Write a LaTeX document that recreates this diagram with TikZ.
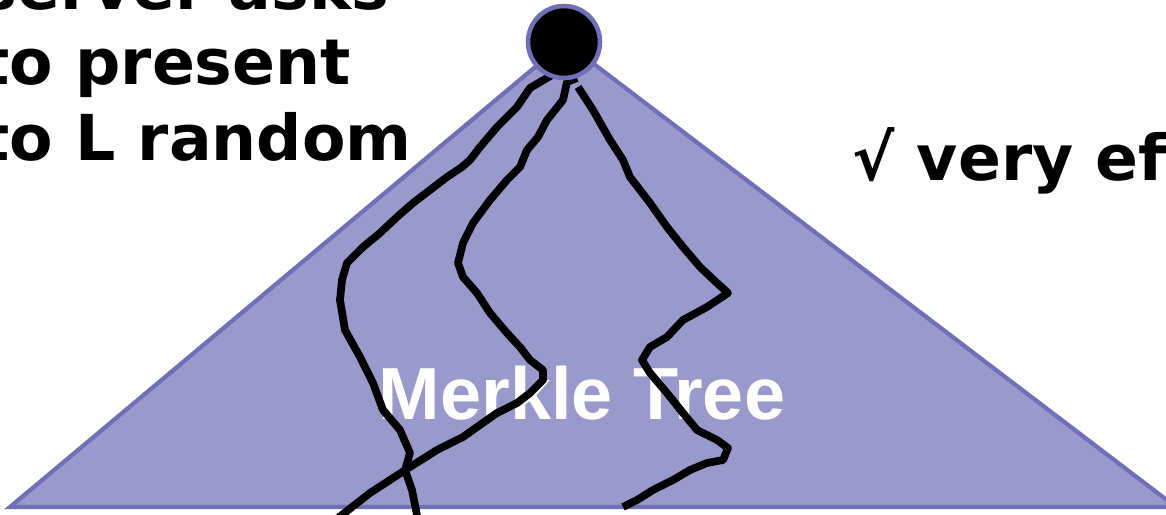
\documentclass[tikz,border=0pt]{standalone}
\usepackage{fontspec}
\newfontfamily\verdanafont{DejaVu Sans}
\newfontfamily\arialfont{Liberation Sans}

\definecolor{treefill}{RGB}{153,153,204}
\definecolor{treeline}{RGB}{112,112,184}

\tikzset{
  scribble/.style={black,line width=2.2pt,line join=round},
  bigtext/.style={font=\verdanafont\bfseries\fontsize{18}{21}\selectfont,inner sep=0pt,anchor=base west}
}

\begin{document}
\begin{tikzpicture}[x=0.01cm,y=-0.01cm]

   \useasboundingbox (0,0) rectangle (1166,515);
   \clip (0,0) rectangle (1166,515);

   % the tree
   \fill[treefill] (10,507) -- (565,42) -- (1176,507) -- cycle;
   \draw[treeline,line width=1.2pt] (10,507) -- (565,42) -- (1176,507) -- cycle;

   \node[font=\arialfont\bfseries\fontsize{21}{24}\selectfont,text=white,inner sep=0pt,anchor=base west] (mtree) at (378,419) {Merkle Tree};

   % three paths down the tree
   \draw[scribble] (552,75) -- (530,88) -- (517,107) -- (497,127) -- (480,147) -- (470,160) -- (462,167)
      -- (447,177) -- (430,190) -- (413,203) -- (397,217) -- (380,233) -- (363,247) -- (347,263)
      -- (342,280) -- (340,300) -- (345,330) -- (360,357) -- (373,383) -- (383,410) -- (400,430)
      -- (410,453) -- (405,470) -- (412,490) -- (418,520);
   \draw[scribble] (577,78) -- (567,82) -- (563,100) -- (547,120) -- (538,137) -- (527,150) -- (520,167)
      -- (507,180) -- (490,200) -- (473,223) -- (463,243) -- (458,263) -- (463,277) -- (477,293)
      -- (490,313) -- (507,333) -- (520,347) -- (530,360) -- (543,370) -- (543,380) -- (530,393)
      -- (517,403) -- (497,413) -- (477,427) -- (463,437) -- (437,450) -- (410,467) -- (390,480)
      -- (370,493) -- (338,518);
   \draw[scribble] (578,87) -- (593,110) -- (610,140) -- (623,160) -- (630,177) -- (650,203) -- (667,227)
      -- (683,247) -- (700,267) -- (717,283) -- (728,293) -- (707,307) -- (683,320) -- (667,337)
      -- (650,347) -- (642,360) -- (650,373) -- (667,393) -- (683,413) -- (697,430) -- (717,440)
      -- (728,448) -- (723,460) -- (707,463) -- (690,470) -- (673,480) -- (653,490) -- (637,500)
      -- (623,507);

   % root
   \fill[black,draw=treeline,line width=1.3pt] (564,42) circle (36);

   % text
   \node[bigtext] (ask1) at (-21,9) {server asks};
   \node[bigtext] (ask2) at (-21,84) {to present};
   \node[bigtext] (ask3) at (-21,160) {to L random};
   \node[bigtext] (eff) at (852,180) {√ very efficient};

\end{tikzpicture}
\end{document}
